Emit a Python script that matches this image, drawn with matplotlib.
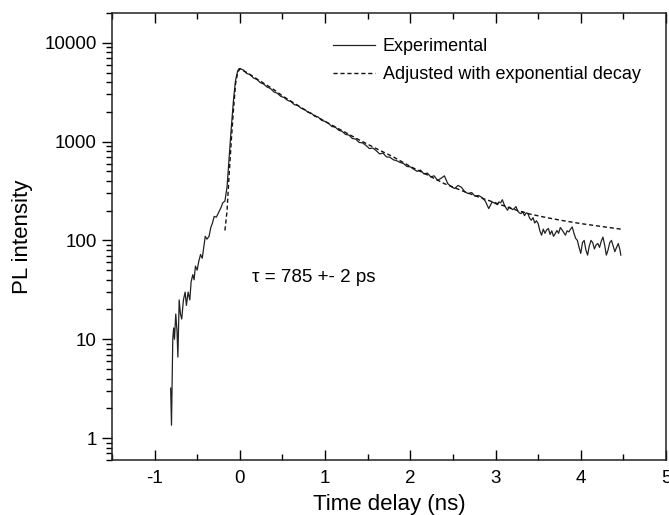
import matplotlib.pyplot as plt
import matplotlib.ticker as ticker

plt.rcParams['font.family'] = ['Liberation Sans', 'DejaVu Sans']
plt.rcParams['axes.unicode_minus'] = False

# experimental trace, time in ns, PL counts
rise_t = [-0.812, -0.802, -0.787, -0.777, -0.767, -0.752, -0.737, -0.727, -0.712, -0.697,
          -0.682, -0.662, -0.642, -0.627, -0.607, -0.587, -0.572, -0.552, -0.537, -0.521,
          -0.501, -0.481, -0.461, -0.441, -0.421, -0.406, -0.386, -0.361, -0.341, -0.321,
          -0.301, -0.276, -0.251, -0.221, -0.201, -0.175, -0.150, -0.125, -0.100, -0.075,
          -0.050, -0.025, -0.010]
rise_v = [3.2, 1.35, 10, 13, 10, 18, 12, 6.6, 25, 18,
          16, 25, 30, 22, 30, 25, 38, 45, 40, 55,
          50, 62, 72, 66, 88, 110, 103, 110, 135, 150,
          175, 172, 190, 215, 240, 250, 350, 700, 1400, 2600,
          4200, 5200, 5450]

decay_t = [0.00, 0.04, 0.08, 0.12, 0.16, 0.20, 0.24, 0.28, 0.32, 0.36,
           0.40, 0.44, 0.48, 0.52, 0.56, 0.60, 0.64, 0.68, 0.72, 0.76,
           0.80, 0.84, 0.88, 0.92, 0.96, 1.00, 1.04, 1.08, 1.12, 1.16,
           1.20, 1.24, 1.28, 1.32, 1.36, 1.40, 1.44, 1.48, 1.52, 1.56,
           1.60, 1.64, 1.68, 1.72, 1.76, 1.80, 1.84, 1.88, 1.92, 1.96,
           2.00, 2.04, 2.08, 2.12, 2.16, 2.20, 2.24, 2.28, 2.32, 2.36,
           2.40, 2.44, 2.48, 2.52, 2.56, 2.60, 2.64, 2.68, 2.72, 2.76,
           2.80, 2.84, 2.88, 2.92, 2.96, 3.00]
decay_v = [5500, 5300, 4900, 4750, 4400, 4250, 3950, 3820, 3560, 3440,
           3180, 3080, 2870, 2790, 2610, 2540, 2360, 2320, 2170, 2110,
           1980, 1930, 1800, 1770, 1640, 1600, 1530, 1420, 1400, 1300,
           1270, 1180, 1165, 1075, 1060, 980, 970, 915, 850, 860,
           810, 750, 765, 700, 695, 655, 640, 615, 600, 560,
           555, 525, 500, 515, 470, 480, 440, 450, 405, 425,
           450, 375, 350, 335, 360, 345, 310, 298, 305, 280,
           285, 272, 250, 210, 245, 236]

tail_t = [3.02, 3.04, 3.06, 3.08, 3.10, 3.12, 3.14, 3.16, 3.18, 3.20,
          3.22, 3.24, 3.26, 3.28, 3.30, 3.32, 3.34, 3.36, 3.38, 3.40,
          3.42, 3.44, 3.46, 3.48, 3.50, 3.52, 3.54, 3.56, 3.58, 3.60,
          3.62, 3.64, 3.66, 3.68, 3.70, 3.72, 3.74, 3.76, 3.78, 3.80,
          3.82, 3.84, 3.86, 3.88, 3.90, 3.92, 3.94, 3.96, 3.98, 4.00,
          4.02, 4.04, 4.06, 4.08, 4.10, 4.12, 4.14, 4.16, 4.18, 4.20,
          4.22, 4.24, 4.26, 4.28, 4.30, 4.32, 4.34, 4.36, 4.38, 4.40,
          4.42, 4.44, 4.46, 4.47]
tail_v = [230, 245, 240, 258, 232, 215, 202, 218, 212, 205,
          210, 220, 198, 190, 187, 195, 178, 190, 187, 168,
          160, 170, 150, 158, 148, 125, 113, 130, 118, 128,
          132, 115, 125, 110, 117, 126, 118, 135, 128, 120,
          113, 125, 122, 130, 137, 118, 105, 100, 85, 74,
          95, 100, 80, 71, 88, 100, 95, 82, 90, 93,
          85, 98, 108, 90, 71, 80, 95, 100, 88, 77,
          85, 93, 80, 71]

# fitted curve
fit_t = [-0.175, -0.15, -0.125, -0.10, -0.075, -0.05, -0.025, 0.0, 0.1, 0.2,
         0.3, 0.4, 0.5, 0.6, 0.8, 1.0, 1.2, 1.4, 1.6, 1.8,
         2.0, 2.2, 2.4, 2.6, 2.8, 3.0, 3.2, 3.4, 3.6, 3.8,
         4.0, 4.2, 4.47]
fit_v = [126, 200, 475, 1030, 2090, 3870, 5000, 5450, 4900, 4300,
         3800, 3350, 2900, 2560, 2000, 1600, 1290, 1040, 850, 700,
         560, 460, 375, 320, 275, 240, 208, 185, 170, 158,
         148, 140, 130]

exp_t = rise_t + decay_t + tail_t
exp_v = rise_v + decay_v + tail_v

fig = plt.figure(figsize=(6.69, 5.15), dpi=100)
ax = fig.add_axes([112 / 669, 55 / 515, 554 / 669, 447 / 515])

ax.plot(exp_t, exp_v, color='#222222', lw=0.9, label='Experimental')
ax.plot(fit_t, fit_v, color='#111111', lw=1.0, dashes=(3, 2),
        label='Adjusted with exponential decay')

ax.set_yscale('log')
ax.set_xlim(-1.5, 5)
ax.set_ylim(0.6, 20000)

ax.yaxis.set_major_locator(ticker.FixedLocator([1, 10, 100, 1000, 10000]))
ax.yaxis.set_major_formatter(ticker.FixedFormatter(['1', '10', '100', '1000', '10000']))
ax.yaxis.set_minor_locator(ticker.LogLocator(base=10, subs=range(2, 10), numticks=20))
ax.yaxis.set_minor_formatter(ticker.NullFormatter())
ax.xaxis.set_major_locator(ticker.MultipleLocator(1))
ax.xaxis.set_minor_locator(ticker.MultipleLocator(0.5))

ax.tick_params(axis='x', which='both', direction='in', top=True, labelsize=13.5, pad=7)
ax.tick_params(axis='x', which='major', length=7, width=1)
ax.tick_params(axis='x', which='minor', length=4, width=1)
ax.tick_params(axis='y', which='both', direction='out', right=False, labelsize=13.5, pad=4)
ax.tick_params(axis='y', which='major', length=7, width=1)
ax.tick_params(axis='y', which='minor', length=4, width=1)
for s in ax.spines.values():
    s.set_linewidth(1.1)
    s.set_color('#222222')

ax.set_xlabel('Time delay (ns)', fontsize=16, labelpad=5)
ax.set_ylabel('PL intensity', fontsize=16, labelpad=8)

ax.text(0.14, 42, 'τ = 785 +- 2 ps', fontsize=13.5, va='center', ha='left')

ax.legend(loc='upper left', bbox_to_anchor=(333 / 669, 1 - 38 / 515),
          bbox_transform=fig.transFigure, frameon=False, fontsize=13,
          handlelength=2.3, handletextpad=0.45, borderpad=0, borderaxespad=0,
          labelspacing=0.6)

fig.savefig('out.png', dpi=100)
